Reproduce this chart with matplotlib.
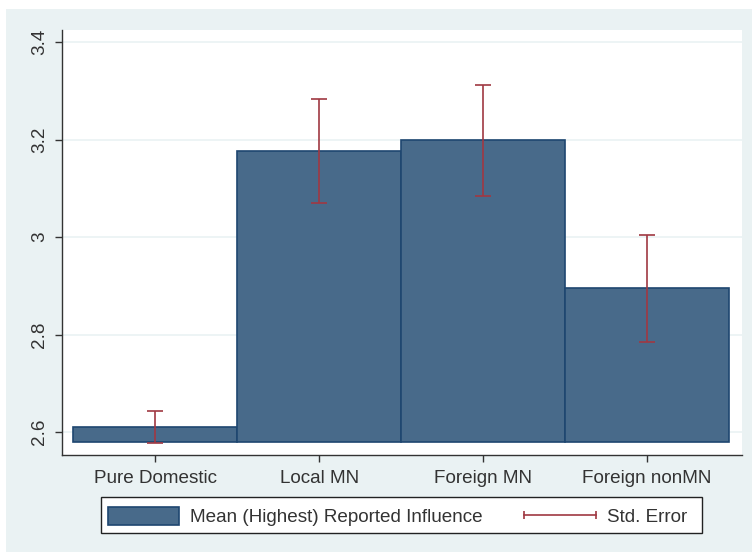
import matplotlib
matplotlib.use("Agg")
import matplotlib.pyplot as plt
from matplotlib.patches import Patch, Rectangle
from matplotlib.lines import Line2D
from matplotlib.legend_handler import HandlerLine2D

# Data
categories = ["Pure Domestic", "Local MN", "Foreign MN", "Foreign nonMN"]
means = [2.610, 3.177, 3.198, 2.895]
std_errors = [0.033, 0.107, 0.114, 0.110]
bar_base = 2.58
y_ticks = [2.6, 2.8, 3.0, 3.2, 3.4]
y_tick_labels = ["2.6", "2.8", "3", "3.2", "3.4"]

bar_color = "#486a8a"
edge_color = "#1e4670"
err_color = "#a03842"
bg_color = "#eaf2f3"

plt.rcParams["font.family"] = ["Liberation Sans", "DejaVu Sans"]

W, H = 752, 553
fig = plt.figure(figsize=(W / 100, H / 100), dpi=100, facecolor="white")

# Outer shaded region
fig.patches.append(Rectangle((6 / W, 1 / H), (W - 6) / W, (H - 10) / H,
                             transform=fig.transFigure, facecolor=bg_color,
                             edgecolor="none", zorder=-10))

ax = fig.add_axes([62 / W, (H - 455) / H, (742 - 62) / W, (455 - 30) / H])
ax.set_facecolor("white")

x = list(range(len(categories)))
heights = [m - bar_base for m in means]
ax.bar(x, heights, bottom=bar_base, width=1.0, color=bar_color,
       edgecolor=edge_color, linewidth=1.2, zorder=2)
ax.errorbar(x, means, yerr=std_errors, fmt="none", ecolor=err_color,
            elinewidth=1.2, capsize=6, capthick=1.2, zorder=3)

ax.set_xlim(-0.57, 3.58)
ax.set_ylim(2.553, 3.4246)
ax.set_yticks(y_ticks)
ax.set_yticklabels(y_tick_labels, rotation=90, va="center")
ax.set_xticks(x)
ax.set_xticklabels(categories)
ax.grid(axis="y", color=bg_color, linewidth=1.2, zorder=0)
ax.set_axisbelow(True)

for side in ("top", "right"):
    ax.spines[side].set_visible(False)
for side in ("left", "bottom"):
    ax.spines[side].set_color("#333333")
    ax.spines[side].set_linewidth(1.0)
ax.tick_params(axis="both", direction="out", length=5, width=1.0,
               color="#333333", labelsize=13.6, labelcolor="#333333", pad=6)
ax.tick_params(axis="y", pad=5)

# Legend frame drawn as its own box
fig.patches.append(Rectangle((101 / W, (H - 533) / H), 601 / W, 36 / H,
                             transform=fig.transFigure, facecolor="white",
                             edgecolor="#222222", linewidth=1.0, zorder=1))

handles = [
    Patch(facecolor=bar_color, edgecolor=edge_color, linewidth=1.2),
    Line2D([0, 1], [0, 0], color=err_color, linewidth=1.2, marker="|",
           markersize=6, markeredgewidth=1.2),
]
labels = ["Mean (Highest) Reported Influence", "Std. Error"]
leg = fig.legend(handles, labels, ncol=2, loc="lower left",
                 bbox_to_anchor=(101 / W, (H - 533) / H, 593 / W, 36 / H),
                 mode="expand", borderaxespad=0, frameon=False,
                 fontsize=13.6, handlelength=3.8, handleheight=1.05,
                 handletextpad=0.58, borderpad=0.35,
                 handler_map={Line2D: HandlerLine2D(numpoints=2, marker_pad=0)})
leg.set_zorder(2)
for t in leg.get_texts():
    t.set_color("#333333")

fig.savefig("out.png", dpi=100, facecolor="white")
